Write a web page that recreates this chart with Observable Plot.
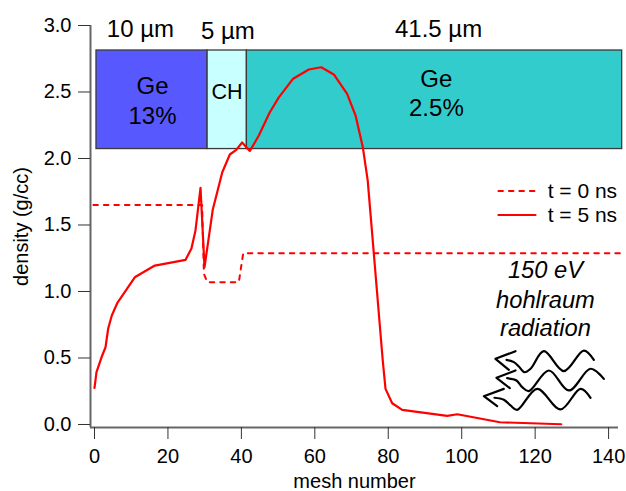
<!DOCTYPE html>
<html>
<head>
<meta charset="utf-8">
<script src="https://cdn.jsdelivr.net/npm/d3@7"></script>
<script src="https://cdn.jsdelivr.net/npm/@observablehq/plot@0.6"></script>
<style>html,body{margin:0;padding:0;background:#fff}svg{display:block}</style>
</head>
<body>
<div id="chart"></div>
<script>
const meshT5 = [0,0.54,2.1,3.0,3.73,4.71,6.18,10.97,16.42,24.8,26.4,27.5,28.87,29.96,32.2,34.8,36.85,38.6,40.2,42.3,44.75,47.74,50.2,54.1,58.36,61.74,65.17,68.8,71.1,73.07,74.4,76.06,78.5,79.25,81.07,83.8,96.05,98.8,110.4,127.1];
const densityT5 = [0.276,0.393,0.519,0.581,0.722,0.82,0.912,1.107,1.195,1.238,1.323,1.459,1.78,1.183,1.614,1.897,2.03,2.065,2.12,2.056,2.173,2.348,2.46,2.6,2.669,2.686,2.632,2.486,2.323,2.085,1.835,1.288,0.481,0.268,0.16,0.11,0.065,0.077,0.017,0.002];
const meshT0 = [-0.3,29.3,29.8,30.7,39.3,40.5,143.3];
const densityT0 = [1.65,1.65,1.133,1.07,1.07,1.288,1.288];

const layerNames = ["Ge 13%","CH","Ge 2.5%"];
const layerStart = [0.54,30.8,41.5];
const layerEnd = [30.8,41.5,143.7];
const layerColors = ["#5858FF","#C8FFFF","#33CCCC"];
const layerBottom = 2.071, layerTop = 2.812;

const xTicks = [0,20,40,60,80,100,120,140];
const yTicks = [0,0.5,1,1.5,2,2.5,3];
const xDomain = [-1.09,142.7], yDomain = [-0.0226,3];

const labelText = ["10 µm","5 µm","41.5 µm","Ge","13%","Ge","2.5%"];
const labelX = [12.5,36.3,93.7,15.8,15.8,93.1,93.1];
const labelY = [2.97,2.955,2.975,2.54,2.32,2.595,2.38];
const chText = ["CH"], chX = [36.1], chY = [2.5];

const legendText = ["t = 0 ns","t = 5 ns"];
const legendTextX = 123.4;
const legendY = [1.755,1.575];
const legendLineX = [110,120.1];

const noteText = ["150 eV","hohlraum","radiation"];
const noteX = 122.8;
const noteY = [1.155,0.93,0.72];

const waves = [
  {head:[[114.65,0.551],[109.2,0.494],[112.84,0.411]],
   body:[[112.2,0.486],[114.2,0.469],[115.56,0.436],[117.1,0.393],[118.74,0.419],[122.37,0.551],[127.8,0.401],[133.26,0.556],[135.98,0.486]]},
  {head:[[114.65,0.406],[109.48,0.351],[113.11,0.273]],
   body:[[112.38,0.348],[114.92,0.331],[116.47,0.281],[118.28,0.251],[123.73,0.406],[129.18,0.256],[135.08,0.419],[138.71,0.343]]},
  {head:[[111.47,0.268],[106.03,0.213],[109.66,0.138]],
   body:[[108.93,0.201],[111.47,0.186],[113.29,0.143],[115.11,0.110],[120.55,0.268],[126.91,0.113],[132.35,0.268],[135.08,0.201]]}
];

const t5 = meshT5.map((x,i)=>({x,y:densityT5[i]}));
const t0 = meshT0.map((x,i)=>({x,y:densityT0[i]}));
const layers = layerNames.map((name,i)=>({name,x1:layerStart[i],x2:layerEnd[i],fill:layerColors[i]}));
const labels = labelText.map((t,i)=>({t,x:labelX[i],y:labelY[i]}));
const FS = 20, AXIS = "#666", TICK = "#333", RED = "#ff0000", DASH = "4.5,6";

const plot = Plot.plot({
  width:626, height:491,
  marginLeft:90, marginRight:8, marginTop:25, marginBottom:64,
  style:{fontFamily:"'Liberation Sans',Arial,sans-serif",fontSize:FS+"px",background:"#fff",color:"#000"},
  x:{domain:xDomain},
  y:{domain:yDomain},
  marks:[
    Plot.rectY(layers,{x1:"x1",x2:"x2",y1:layerBottom,y2:layerTop,fill:"fill",stroke:"#3a3a3a",strokeWidth:1.3}),
    Plot.ruleY([yDomain[0]],{stroke:AXIS,strokeWidth:2}),
    Plot.ruleX([xDomain[0]],{stroke:AXIS,strokeWidth:2}),
    Plot.axisX({ticks:xTicks,tickSize:12,tickPadding:9,stroke:TICK,tickFormat:d=>String(d),fontSize:FS,
      label:"mesh number",labelAnchor:"center",labelArrow:"none",labelOffset:60}),
    Plot.axisY({ticks:yTicks,tickSize:12,tickPadding:7,stroke:TICK,tickFormat:d=>d.toFixed(1),fontSize:FS,
      label:"density (g/cc)",labelAnchor:"center",labelArrow:"none",labelOffset:77}),
    Plot.line(t0,{x:"x",y:"y",stroke:RED,strokeWidth:2,strokeDasharray:DASH}),
    Plot.line(t5,{x:"x",y:"y",stroke:RED,strokeWidth:2.2}),
    Plot.text(labels,{x:"x",y:"y",text:"t",fontSize:24,fill:"#000"}),
    Plot.text(chText,{x:chX,y:chY,text:d=>d,fontSize:21.5,fill:"#000"}),
    Plot.line(legendLineX.map(x=>({x,y:legendY[0]})),{x:"x",y:"y",stroke:RED,strokeWidth:2,strokeDasharray:DASH}),
    Plot.line(legendLineX.map(x=>({x,y:legendY[1]})),{x:"x",y:"y",stroke:RED,strokeWidth:2.2}),
    Plot.text(legendText.map((t,i)=>({t,y:legendY[i]})),{x:legendTextX,y:"y",text:"t",textAnchor:"start",fontSize:21,fill:"#000"}),
    Plot.text(noteText.map((t,i)=>({t,y:noteY[i]})),{x:noteX,y:"y",text:"t",fontSize:23.7,fontStyle:"italic",fill:"#000"}),
    ...waves.flatMap(w=>[
      Plot.line(w.head,{stroke:"#000",strokeWidth:2.2}),
      Plot.line(w.body,{stroke:"#000",strokeWidth:2.2,curve:"catmull-rom"})
    ])
  ]
});
document.getElementById("chart").appendChild(plot);
</script>
</body>
</html>
